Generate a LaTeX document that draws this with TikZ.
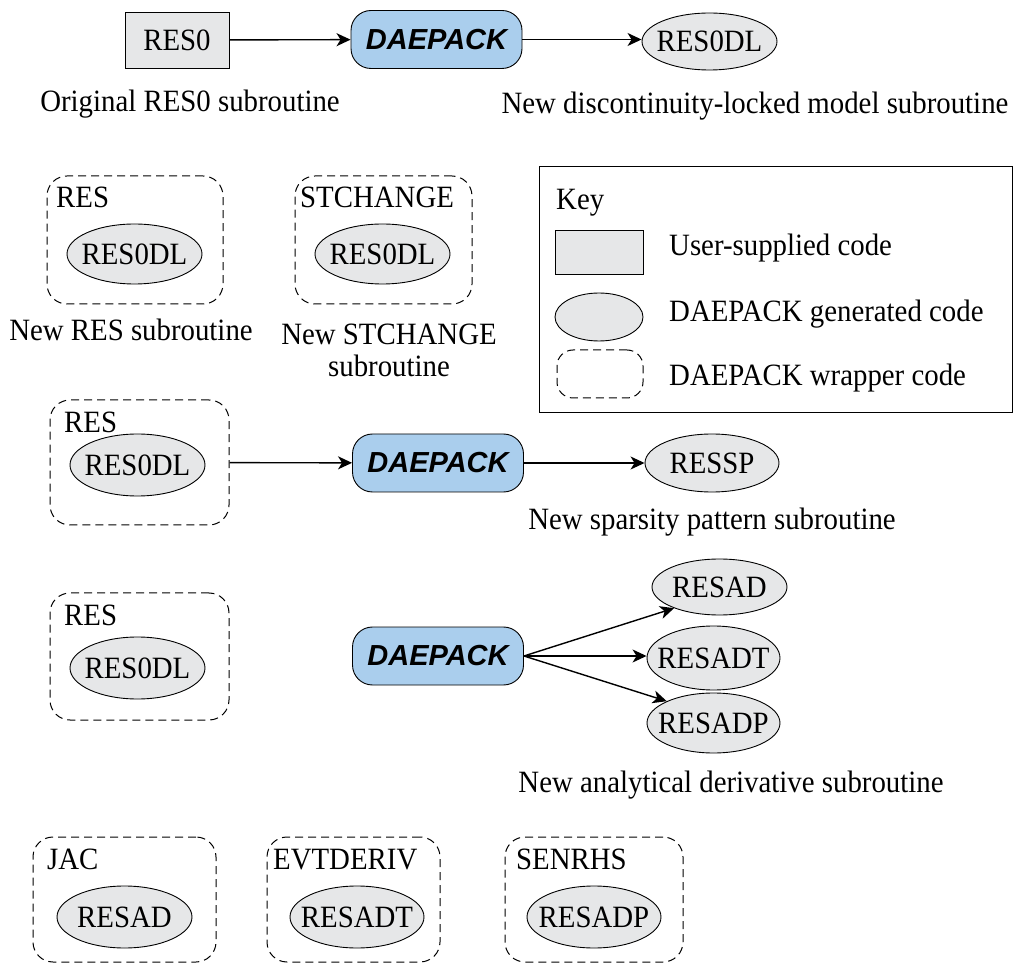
\documentclass[tikz,border=0pt]{standalone}
\usepackage{fontspec}
\setmainfont[FakeStretch=0.93]{Liberation Serif}
\newfontfamily\dpfont{Liberation Sans}
\usetikzlibrary{shapes.geometric,arrows.meta}
\definecolor{boxgray}{RGB}{230,231,232}
\definecolor{dpblue}{RGB}{170,206,237}
\tikzset{
  x=1pt,y=-1pt,
  every node/.style={font=\fontsize{31}{34}\selectfont, inner sep=0pt},
  userbox/.style={draw, line width=0.9pt, fill=boxgray, minimum width=104, minimum height=56},
  genell/.style={ellipse, draw, line width=0.9pt, fill=boxgray, inner xsep=-14pt, inner ysep=-4pt, minimum width=135, minimum height=60},
  dpbox/.style={draw, line width=0.9pt, fill=dpblue, rounded corners=20pt, minimum width=171, minimum height=58, font=\dpfont\bfseries\itshape\fontsize{29}{33}\selectfont},
  wrap/.style={draw, line width=1pt, dash pattern=on 8pt off 5pt, rounded corners=20pt},
  arr/.style={line width=1.4pt, -{Stealth[length=14pt,width=13pt,inset=4pt]}},
  lbl/.style={anchor=north west},
  captext/.style={align=center}
}
\begin{document}
\begin{tikzpicture}
\useasboundingbox (0,0) rectangle (1013,965);
% Row 1
\node[userbox] (res0) at (177,40) {RES0};
\node[dpbox] (dp1) at (436.5,39.5) {DAEPACK};
\node[genell, minimum height=57] (r0dl) at (709.5,41.5) {RES0DL};
\draw[arr] (res0) -- (dp1);
\draw[arr] (dp1) -- (r0dl.west |- dp1.east);
\node[captext] (c1) at (190,104) {Original RES0 subroutine};
\node[captext] (c2) at (755,106) {New discontinuity-locked model subroutine};
% Row 2
\node[wrap, minimum width=176, minimum height=128] (w1) at (135,240) {};
\node[lbl] (w1l) at (56,187) {RES};
\node[genell] (e1) at (134.5,254) {RES0DL};
\node[captext] (c3) at (131,330) {New RES subroutine};
\node[wrap, minimum width=177, minimum height=128] (w2) at (383.5,240) {};
\node[lbl] (w2l) at (300,187) {STCHANGE};
\node[genell] (e2) at (382.5,254) {RES0DL};
\node[captext] (c4) at (389,350) {New STCHANGE\\[-2pt]subroutine};
% Key
\node[draw, line width=0.9pt, minimum width=473, minimum height=246] (key) at (775.5,289) {};
\node[lbl] (keyl) at (556,189) {Key};
\node[userbox, minimum width=88, minimum height=44] (k1) at (599,252) {};
\node[genell, minimum width=88, minimum height=48] (k2) at (599,317) {};
\node[wrap, minimum width=86, minimum height=48, rounded corners=16pt] (k3) at (600,374) {};
\node[anchor=west] (k1t) at (669,248) {User-supplied code};
\node[anchor=west] (k2t) at (669,314) {DAEPACK generated code};
\node[anchor=west] (k3t) at (669,378) {DAEPACK wrapper code};
% Row 3
\node[wrap, minimum width=179, minimum height=125] (w3) at (139.5,462.5) {};
\node[lbl] (w3l) at (64,412) {RES};
\node[genell, minimum height=62] (e3) at (137.5,465) {RES0DL};
\node[dpbox] (dp3) at (438,463) {DAEPACK};
\node[genell, minimum width=134, minimum height=58] (sp) at (712,463) {RESSP};
\draw[arr] (w3) -- (dp3);
\draw[arr] (dp3) -- (sp);
\node[captext] (c5) at (712,522) {New sparsity pattern subroutine};
% Row 4
\node[wrap, minimum width=179, minimum height=127] (w4) at (139.5,656.5) {};
\node[lbl] (w4l) at (64,605) {RES};
\node[genell, minimum height=62] (e4) at (137.5,668) {RES0DL};
\node[dpbox] (dp4) at (438,656) {DAEPACK};
\node[genell, minimum width=135, minimum height=56] (ad) at (719.5,587) {RESAD};
\node[genell, minimum width=133, minimum height=64] (adt) at (713.5,658) {RESADT};
\node[genell, minimum width=133, minimum height=60] (adp) at (713.5,723) {RESADP};
\draw[arr] (dp4.east) -- (ad.-155);
\draw[arr] (dp4.east) -- (adt.west |- dp4.east);
\draw[arr] (dp4.east) -- (adp.155);
\node[captext] (c6) at (731,785) {New analytical derivative subroutine};
% Row 5
\node[wrap, minimum width=183, minimum height=125] (w5) at (124.5,899.5) {};
\node[lbl] (w5l) at (47,849) {JAC};
\node[genell, minimum height=62] (e5) at (124.5,917) {RESAD};
\node[wrap, minimum width=173, minimum height=125] (w6) at (353.5,899.5) {};
\node[lbl] (w6l) at (273,849) {EVTDERIV};
\node[genell, minimum width=134, minimum height=62] (e6) at (357,917) {RESADT};
\node[wrap, minimum width=178, minimum height=125] (w7) at (594,899.5) {};
\node[lbl] (w7l) at (516,849) {SENRHS};
\node[genell, minimum width=134, minimum height=62] (e7) at (594,917) {RESADP};
\end{tikzpicture}
\end{document}
